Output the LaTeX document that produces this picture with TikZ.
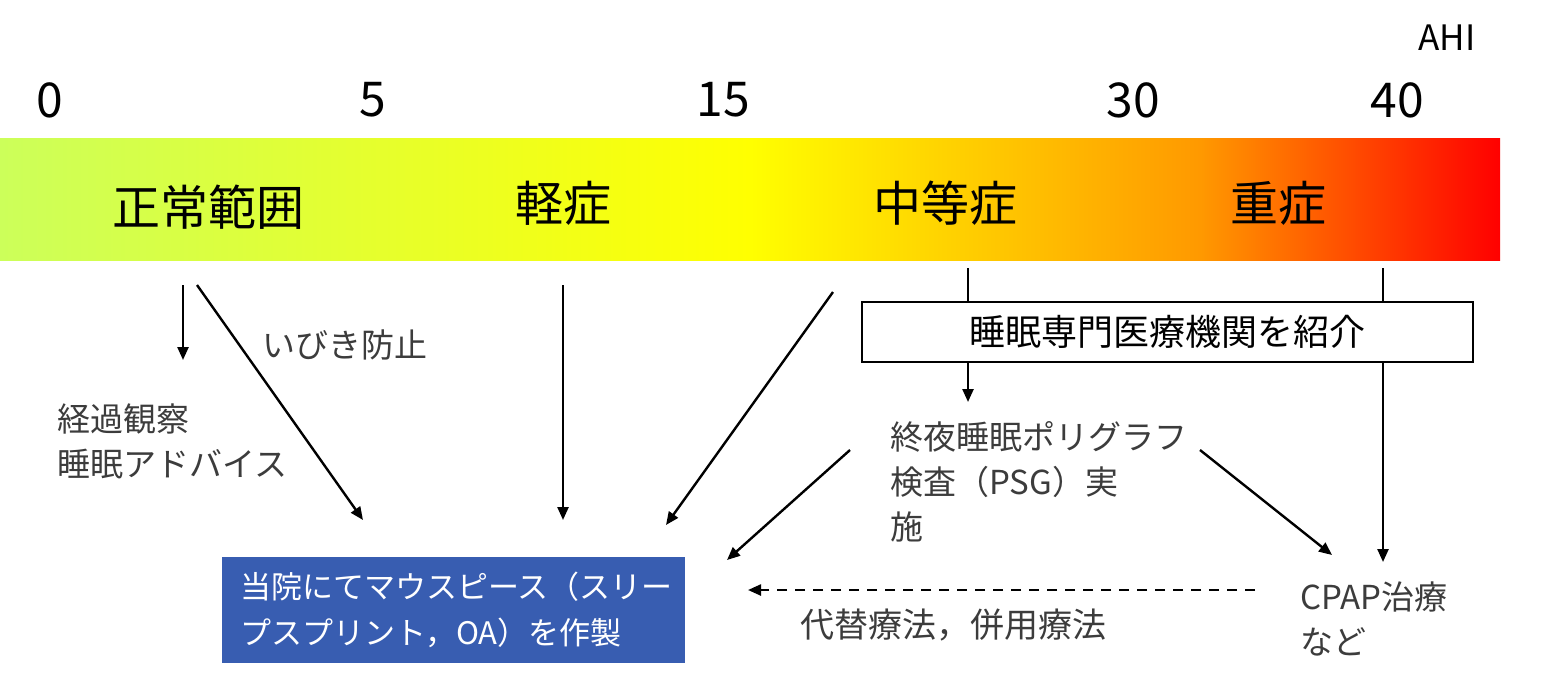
\documentclass[tikz,border=0pt]{standalone}
\usepackage{fontspec}
\setmainfont{Noto Sans CJK JP}
\usetikzlibrary{arrows.meta}
\definecolor{gtxt}{RGB}{60,60,60}
\definecolor{bluebox}{RGB}{56,93,177}
\definecolor{cg}{RGB}{204,255,90}
\definecolor{corange}{RGB}{255,153,0}
\pgfdeclarehorizontalshading{ahibar}{100bp}{color(0bp)=(cg); color(25bp)=(cg); color(50bp)=(yellow); color(65bp)=(corange); color(75bp)=(red); color(100bp)=(red)}
\begin{document}
\begin{tikzpicture}[x=0.5pt,y=-0.5pt,
  arr/.style={line width=1.2pt,-{Triangle[length=6.5pt,width=5.5pt]}},
  plain/.style={line width=1.2pt},
  dasharr/.style={line width=1.2pt,dash pattern=on 5pt off 4pt,-{Triangle[length=6.5pt,width=5.5pt]}},
  num/.style={font=\fontsize{24}{28}\selectfont,inner sep=0pt},
  cat/.style={font=\fontsize{24}{28}\selectfont,inner sep=0pt},
  lbl/.style={text=gtxt,font=\fontsize{16.5}{22.5}\selectfont,align=left,inner sep=0pt},
]
\useasboundingbox (0,0) rectangle (1542,682);
% gradient bar
\node[shading=ahibar,minimum width=750pt,minimum height=61pt,inner sep=0pt,draw=none] (bar) at (750,199) {};
% scale numbers
\node[num] (n0) at (50,100) {0};
\node[num] (n5) at (373,100) {5};
\node[num] (n15) at (723,100) {15};
\node[num] (n30) at (1133,100) {30};
\node[num] (n40) at (1397,100) {40};
\node[font=\fontsize{17.5}{20}\selectfont,inner sep=0pt] (ahi) at (1447,38) {AHI};
% categories
\node[cat] (normal) at (208,207) {正常範囲};
\node[cat] (mild) at (563,203) {軽症};
\node[cat] (moderate) at (945,203) {中等症};
\node[cat] (severe) at (1278,203) {重症};
% labels
\node[lbl,anchor=west] (obs) at (57,441) {経過観察\\睡眠アドバイス};
\node[lbl,anchor=west] (snore) at (262,345) {いびき防止};
\node[lbl,anchor=west] (psg) at (890,482) {終夜睡眠ポリグラフ\\検査（PSG）実\\施};
\node[lbl,anchor=west] (cpap) at (1300,619) {CPAP治療\\など};
\node[lbl,anchor=west,font=\fontsize{17}{22.5}\selectfont] (alt) at (800,625) {代替療法，併用療法};
% boxes
\node[draw=black,line width=1pt,fill=white,minimum width=305.5pt,minimum height=30pt,inner sep=0pt,font=\fontsize{18}{22}\selectfont] (refer) at (1167.5,332) {睡眠専門医療機関を紹介};
\node[fill=bluebox,text=white,minimum width=231.5pt,minimum height=53pt,inner xsep=9pt,inner ysep=0pt,text width=213.5pt,align=left,font=\fontsize{15.5}{23}\selectfont] (oa) at (453.5,610) {当院にてマウスピース（スリー\\プスプリント，OA）を作製};
% coordinates for free ends
\coordinate (s1) at (183,285);
\coordinate (e1) at (183,360);
\coordinate (s2) at (197,285);
\coordinate (e2) at (363,520);
\coordinate (s3) at (563,285);
\coordinate (e3) at (563,520);
\coordinate (s4) at (833,292);
\coordinate (e4) at (666,525);
\coordinate (s5) at (968,268);
\coordinate (e5) at (968,402);
\coordinate (s6) at (1383,268);
\coordinate (e6) at (1383,562);
\coordinate (s7) at (850,450);
\coordinate (e7) at (727,560);
\coordinate (s8) at (1200,450);
\coordinate (e8) at (1332,555);
\coordinate (s9) at (1255,590);
\coordinate (e9) at (748,590);
% connectors
\draw[arr] (s1) -- (e1);
\draw[arr] (s2) -- (e2);
\draw[arr] (s3) -- (e3);
\draw[arr] (s4) -- (e4);
\draw[plain] (s5) -- (s5 |- refer.north);
\draw[arr] (s5 |- refer.south) -- (e5);
\draw[plain] (s6) -- (s6 |- refer.north);
\draw[arr] (s6 |- refer.south) -- (e6);
\draw[arr] (s7) -- (e7);
\draw[arr] (s8) -- (e8);
\draw[dasharr] (s9) -- (e9);
\end{tikzpicture}
\end{document}
